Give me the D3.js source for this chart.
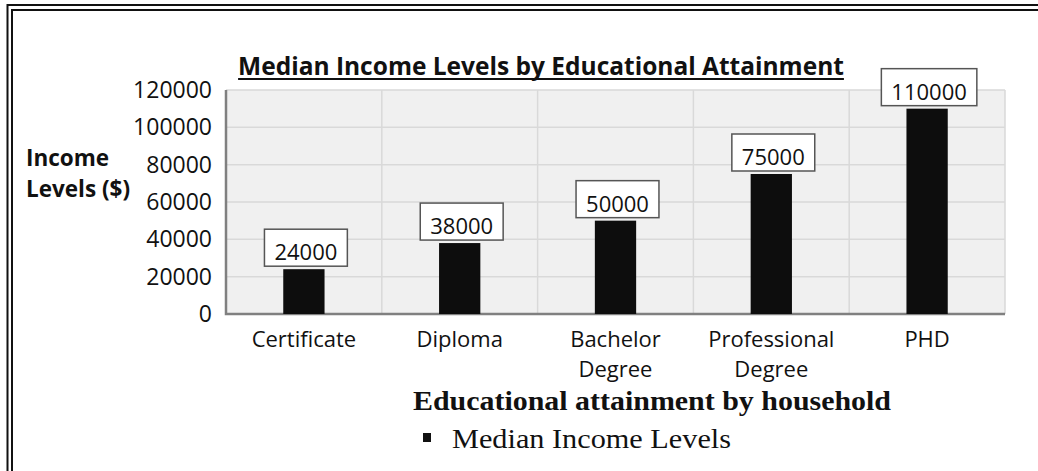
<!DOCTYPE html>
<html>
<head>
<meta charset="utf-8">
<script src="https://cdn.jsdelivr.net/npm/d3@7"></script>
<style>
  body { margin: 0; background: #fff; }
  svg { display: block; }
</style>
</head>
<body>
<script>
const categories = ["Certificate", "Diploma", "Bachelor Degree", "Professional Degree", "PHD"];
const categoryLines = [["Certificate"], ["Diploma"], ["Bachelor", "Degree"], ["Professional", "Degree"], ["PHD"]];
const incomes = [24000, 38000, 50000, 75000, 110000];
const yTicks = [0, 20000, 40000, 60000, 80000, 100000, 120000];

const W = 1038, H = 471;
const plot = { left: 226, right: 1005, top: 90, bottom: 314 };
const sans = "'Open Sans', Lato, sans-serif";
const serif = "'Liberation Serif', 'DejaVu Serif', serif";

const svg = d3.select("body").append("svg")
    .attr("width", W)
    .attr("height", H);

// double frame (top and left only visible)
[[5, 7.5], [10, 12]].forEach(([ty, lx]) => {
    svg.append("path")
        .attr("d", `M${lx},${H + 5}V${ty}H${W + 5}`)
        .attr("fill", "none")
        .attr("stroke", "#111")
        .attr("stroke-width", 2);
});

const x = d3.scaleBand()
    .domain(categories)
    .range([plot.left, plot.right])
    .paddingInner(0.735)
    .paddingOuter(0.3675);

const y = d3.scaleLinear()
    .domain([0, 120000])
    .range([plot.bottom, plot.top]);

// plot background
svg.append("rect")
    .attr("x", plot.left)
    .attr("y", plot.top)
    .attr("width", plot.right - plot.left)
    .attr("height", plot.bottom - plot.top)
    .attr("fill", "#f0f0f0");

// horizontal gridlines
svg.append("g")
    .selectAll("line")
    .data(yTicks.filter(d => d > 0))
    .join("line")
        .attr("x1", plot.left)
        .attr("x2", plot.right)
        .attr("y1", d => y(d))
        .attr("y2", d => y(d))
        .attr("stroke", "#d9d9d9")
        .attr("stroke-width", 1.5);

// vertical gridlines at category boundaries
svg.append("g")
    .selectAll("line")
    .data(d3.range(1, categories.length + 1))
    .join("line")
        .attr("x1", i => plot.left + i * x.step())
        .attr("x2", i => plot.left + i * x.step())
        .attr("y1", plot.top)
        .attr("y2", plot.bottom)
        .attr("stroke", "#d9d9d9")
        .attr("stroke-width", 1.5);

// axis lines
svg.append("path")
    .attr("d", `M${plot.left},${plot.top}V${plot.bottom}H${plot.right}`)
    .attr("fill", "none")
    .attr("stroke", "#808080")
    .attr("stroke-width", 2.5);

// bars
svg.append("g")
    .selectAll("rect")
    .data(incomes)
    .join("rect")
        .attr("x", (d, i) => x(categories[i]))
        .attr("y", d => y(d))
        .attr("width", x.bandwidth())
        .attr("height", d => y(0) - y(d))
        .attr("fill", "#0d0d0d");

// y tick labels
svg.append("g")
    .selectAll("text")
    .data(yTicks)
    .join("text")
        .attr("x", 212)
        .attr("y", d => y(d) + 8)
        .attr("text-anchor", "end")
        .attr("font-family", sans)
        .attr("font-size", 23)
        .attr("fill", "#111")
        .text(d => d);

// x category labels
const xl = svg.append("g")
    .selectAll("text")
    .data(categoryLines)
    .join("text")
        .attr("text-anchor", "middle")
        .attr("font-family", sans)
        .attr("font-size", 22)
        .attr("fill", "#111");
xl.selectAll("tspan")
    .data((lines, i) => lines.map(l => ({ l, i })))
    .join("tspan")
        .attr("x", d => x(categories[d.i]) + x.bandwidth() / 2)
        .attr("y", (d, j) => 347 + j * 30)
        .text(d => d.l);

// data labels with boxes
const lab = svg.append("g")
    .selectAll("g")
    .data(incomes)
    .join("g");
lab.append("text")
    .attr("x", (d, i) => x(categories[i]) + x.bandwidth() / 2 + 2)
    .attr("y", d => y(d) - 9)
    .attr("text-anchor", "middle")
    .attr("font-family", sans)
    .attr("font-size", 22)
    .attr("fill", "#111")
    .text(d => d);
lab.each(function () {
    const g = d3.select(this);
    const b = g.select("text").node().getBBox();
    g.insert("rect", "text")
        .attr("x", b.x - 10)
        .attr("y", b.y + b.height - 37)
        .attr("width", b.width + 20)
        .attr("height", 37)
        .attr("fill", "#fff")
        .attr("stroke", "#555")
        .attr("stroke-width", 1.5);
});

// title
const title = svg.append("text")
    .attr("x", 541)
    .attr("y", 75)
    .attr("text-anchor", "middle")
    .attr("font-family", sans)
    .attr("font-weight", "bold")
    .attr("font-size", 24.5)
    .attr("fill", "#111")
    .text("Median Income Levels by Educational Attainment");
const tb = title.node().getBBox();
svg.append("line")
    .attr("x1", tb.x)
    .attr("x2", tb.x + tb.width)
    .attr("y1", 79)
    .attr("y2", 79)
    .attr("stroke", "#111")
    .attr("stroke-width", 2);

// y axis title
svg.append("text")
    .attr("font-family", sans)
    .attr("font-weight", "bold")
    .attr("font-size", 22.5)
    .attr("fill", "#111")
    .selectAll("tspan")
    .data(["Income", "Levels ($)"])
    .join("tspan")
        .attr("x", 26)
        .attr("y", (d, i) => 166 + i * 31)
        .text(d => d);

// x axis title
svg.append("text")
    .attr("x", 413)
    .attr("y", 410)
    .attr("font-family", serif)
    .attr("font-weight", "bold")
    .attr("font-size", 27)
    .attr("textLength", 478)
    .attr("lengthAdjust", "spacingAndGlyphs")
    .attr("fill", "#111")
    .text("Educational attainment by household");

// legend
svg.append("rect")
    .attr("x", 423)
    .attr("y", 433)
    .attr("width", 8)
    .attr("height", 9)
    .attr("fill", "#111");
svg.append("text")
    .attr("x", 452)
    .attr("y", 448)
    .attr("font-family", serif)
    .attr("font-size", 27)
    .attr("textLength", 279)
    .attr("lengthAdjust", "spacingAndGlyphs")
    .attr("fill", "#111")
    .text("Median Income Levels");
</script>
</body>
</html>
